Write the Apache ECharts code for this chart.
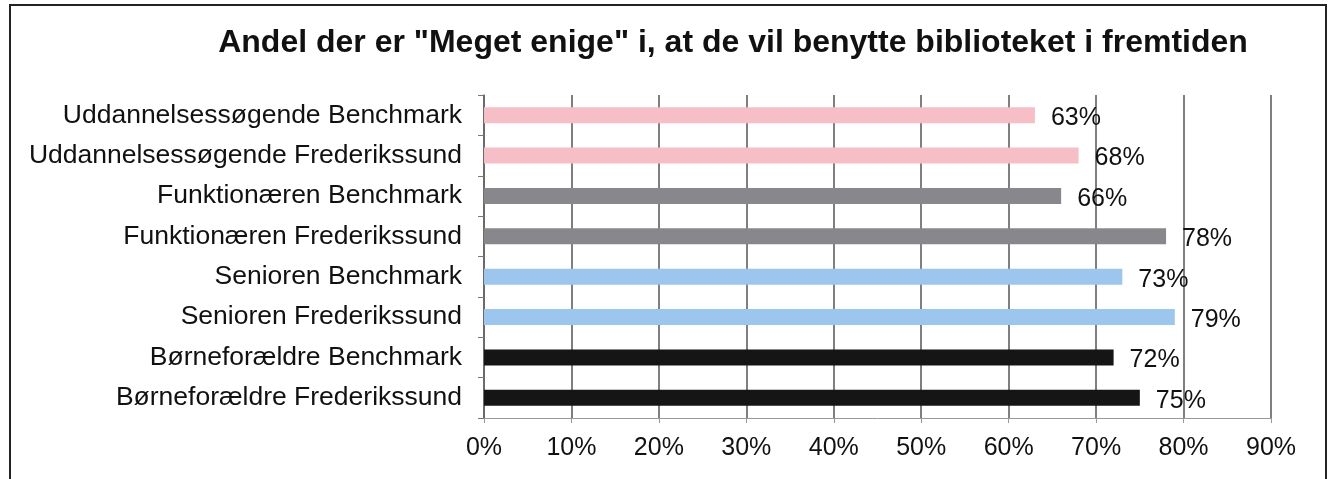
<!DOCTYPE html>
<html>
<head>
<meta charset="utf-8">
<script src="https://cdn.jsdelivr.net/npm/echarts@6/dist/echarts.min.js"></script>
<style>
  html, body { margin: 0; padding: 0; background: #fff; }
  #chart { width: 1333px; height: 479px; }
</style>
</head>
<body>
<div id="chart"></div>
<script>
// kategorier, oppefra og ned
var categories = [
    'Uddannelsessøgende Benchmark',
    'Uddannelsessøgende Frederikssund',
    'Funktionæren Benchmark',
    'Funktionæren Frederikssund',
    'Senioren Benchmark',
    'Senioren Frederikssund',
    'Børneforældre Benchmark',
    'Børneforældre Frederikssund'
];
var values = [63, 68, 66, 78, 73, 79, 72, 75];
var barColors = ['#f6bec6', '#f6bec6', '#88888c', '#88888c', '#9dc6ef', '#9dc6ef', '#151515', '#151515'];
var xTicks = [0, 10, 20, 30, 40, 50, 60, 70, 80, 90];

var myChart = echarts.init(document.getElementById('chart'));

myChart.setOption({
    animation: false,
    title: {
        text: 'Andel der er "Meget enige" i, at de vil benytte biblioteket i fremtiden',
        left: 728,
        textAlign: 'center',
        top: 22,
        textStyle: {
            fontFamily: 'Liberation Sans, Arial',
            fontWeight: 'bold',
            fontSize: 32,
            color: '#111'
        }
    },
    graphic: [
        {
            type: 'rect',
            shape: { x: 10, y: 5, width: 1316, height: 490 },
            style: { fill: 'none', stroke: '#222', lineWidth: 2 }
        }
    ],
    grid: {
        left: 484,
        right: 62,
        top: 95,
        bottom: 61
    },
    xAxis: {
        type: 'value',
        min: xTicks[0],
        max: xTicks[xTicks.length - 1],
        interval: 10,
        axisLine: { show: true, lineStyle: { color: '#999', width: 1 } },
        axisTick: { show: true, length: 5, lineStyle: { color: '#999' } },
        splitLine: { show: true, lineStyle: { color: '#555', width: 1.5 } },
        axisLabel: {
            formatter: '{value}%',
            margin: 18,
            fontFamily: 'Liberation Sans, Arial',
            fontSize: 25,
            color: '#111'
        }
    },
    yAxis: {
        type: 'category',
        inverse: true,
        data: categories,
        axisLine: { show: true, lineStyle: { color: '#666', width: 1.5 } },
        axisTick: { show: true, length: 6, lineStyle: { color: '#777' } },
        axisLabel: {
            margin: 22,
            fontFamily: 'Liberation Sans, Arial',
            fontSize: 26.5,
            color: '#111'
        }
    },
    series: [
        {
            type: 'bar',
            data: values.map(function (v, i) {
                return { value: v, itemStyle: { color: barColors[i] } };
            }),
            barWidth: 16,
            label: {
                show: true,
                position: 'right',
                distance: 16,
                formatter: '{c}%',
                fontFamily: 'Liberation Sans, Arial',
                fontSize: 25,
                color: '#111',
                offset: [0, 3]
            }
        }
    ]
});
</script>
</body>
</html>
